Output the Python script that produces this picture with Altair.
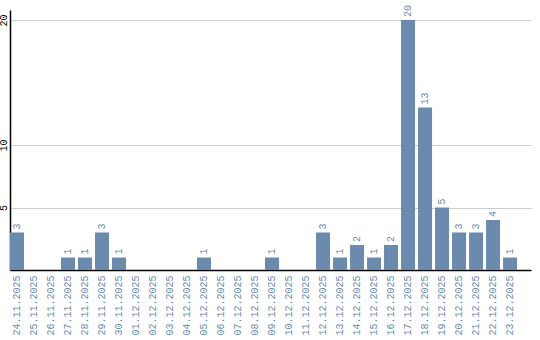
import altair as alt
import pandas as pd

dates = ["24.11.2025", "25.11.2025", "26.11.2025", "27.11.2025", "28.11.2025",
         "29.11.2025", "30.11.2025", "01.12.2025", "02.12.2025", "03.12.2025",
         "04.12.2025", "05.12.2025", "06.12.2025", "07.12.2025", "08.12.2025",
         "09.12.2025", "10.12.2025", "11.12.2025", "12.12.2025", "13.12.2025",
         "14.12.2025", "15.12.2025", "16.12.2025", "17.12.2025", "18.12.2025",
         "19.12.2025", "20.12.2025", "21.12.2025", "22.12.2025", "23.12.2025"]
values = [3, 0, 0, 1, 1, 3, 1, 0, 0, 0, 0, 1, 0, 0, 0, 1, 0, 0, 3, 1, 2, 1, 2,
          20, 13, 5, 3, 3, 4, 1]
y_ticks = [5, 10, 20]

df = pd.DataFrame({"date": dates, "value": values})
color = "#6a8bad"
font = "Liberation Mono"

x = alt.X("date:N", sort=dates, title=None,
          scale=alt.Scale(paddingInner=0.176, paddingOuter=0.41, align=0),
          axis=alt.Axis(labelAngle=270, labelAlign="right", labelBaseline="middle",
                        labelColor=color, labelFont=font, labelFontSize=10,
                        labelPadding=5, ticks=False, domainColor="black",
                        domainWidth=1.5, grid=False))
y = alt.Y("value:Q", title=None,
          scale=alt.Scale(domain=[0, 20.8], nice=False),
          axis=alt.Axis(values=y_ticks, labelAngle=270, labelAlign="center",
                        labelBaseline="bottom", labelColor="black", labelFont=font,
                        labelFontSize=10, labelPadding=2, ticks=False,
                        domainColor="black", domainWidth=1.5,
                        gridColor="#cccccc", gridWidth=1))

bars = alt.Chart(df).mark_bar(color=color).encode(x=x, y=y)
labels = alt.Chart(df).transform_filter("datum.value > 0").mark_text(
    angle=270, align="left", baseline="middle", dx=3, color=color,
    font=font, fontSize=10).encode(x=x, y=y, text="value:Q")

chart = (bars + labels).properties(
    width=521, height=260,
    autosize=alt.AutoSizeParams(type="none"),
    padding={"left": 10, "top": 10, "right": 9, "bottom": 70},
).configure_view(stroke=None)

chart.save("out.html", embed_options={"renderer": "svg", "actions": False})
